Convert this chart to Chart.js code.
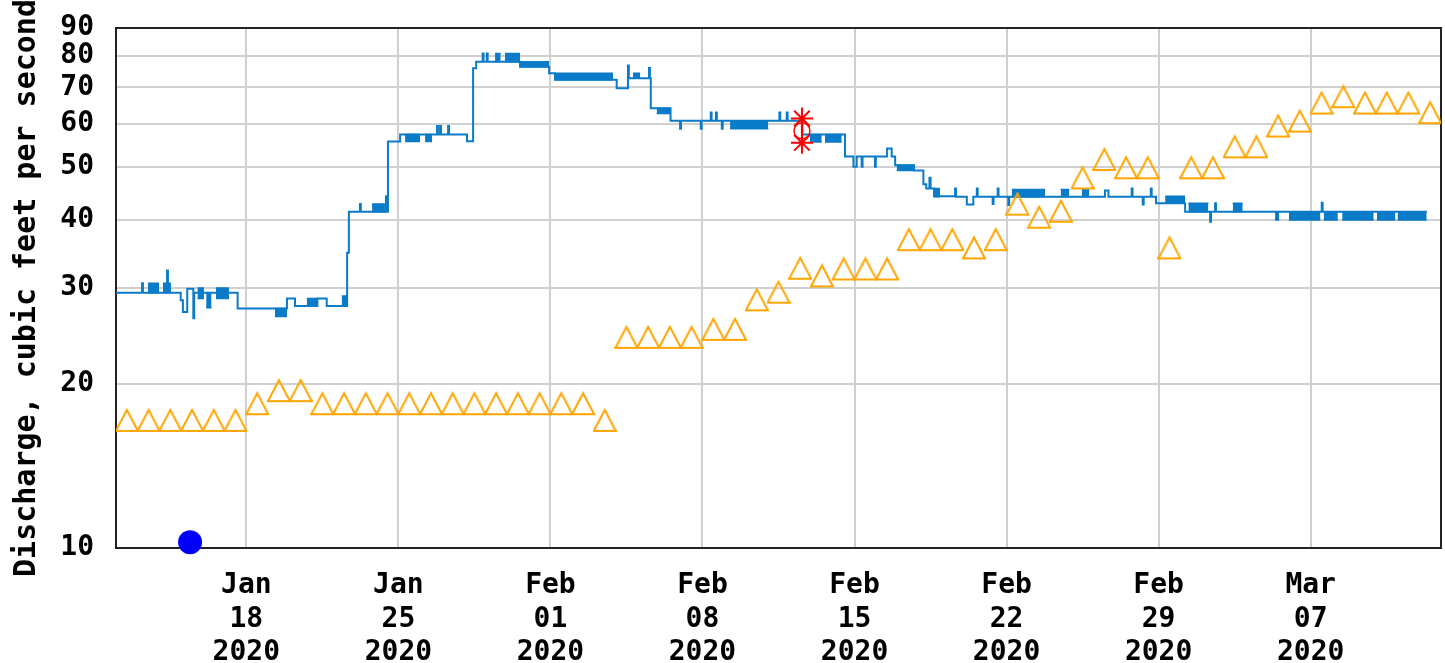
<!DOCTYPE html>
<html>
<head>
<meta charset="utf-8">
<script src="https://cdn.jsdelivr.net/npm/chart.js@4.4.1/dist/chart.umd.min.js"></script>
<style>
  html, body { margin: 0; padding: 0; background: #fff; }
  #wrap { width: 1445px; height: 663px; position: relative; }
</style>
</head>
<body>
<div id="wrap"><canvas id="grafico"></canvas></div>
<script>
// eixo x em dias contados a partir de 12 jan 2020 00:00
var tickDays = [6, 13, 20, 27, 34, 41, 48, 55];
var tickLabels = [
    ["Jan", "18", "2020"], ["Jan", "25", "2020"], ["Feb", "01", "2020"], ["Feb", "08", "2020"],
    ["Feb", "15", "2020"], ["Feb", "22", "2020"], ["Feb", "29", "2020"], ["Mar", "07", "2020"]
];
var yTicks = [10, 20, 30, 40, 50, 60, 70, 80, 90];

// vazao (15 min) - degraus: valor vale ate o proximo dia da lista
var blueDays = [0, 1.20, 1.24, 2.35, 2.39, 2.98, 3.08, 3.28, 3.56, 3.60,
    5.60, 7.87, 8.24, 9.27, 9.70, 10.64, 10.72, 11.23, 11.27, 12.43,
    12.47, 12.52, 13.08, 14.78, 14.82, 14.92, 14.96, 15.29, 15.33, 16.16,
    16.44, 16.58, 16.88, 16.92, 17.07, 17.11, 18.60, 19.94, 20.21, 23.05,
    23.57, 23.61, 24.54, 24.58, 24.62, 25.53, 25.97, 26.01, 26.92, 26.96,
    27.38, 27.42, 27.62, 27.66, 27.89, 27.93, 30.54, 30.58, 30.88, 30.92,
    31.60, 33.56, 33.95, 34.10, 34.33, 34.37, 34.94, 34.98, 35.50, 35.71,
    35.87, 36.74, 37.17, 37.30, 37.45, 37.50, 37.66, 38.63, 38.67, 39.17,
    39.47, 39.63, 39.67, 40.36, 40.40, 40.59, 40.63, 41.08, 41.12, 45.53,
    45.69, 46.76, 46.80, 47.27, 47.31, 47.64, 47.68, 47.88, 49.22, 50.37,
    50.41, 50.60, 50.64, 55.51, 55.55, 60.34];
var blueFlow = [29.4, 30.6, 29.4, 32.3, 29.4, 28.5, 27.1, 29.9, 26.4, 29.4,
    27.5, 28.7, 27.8, 28.7, 27.8, 34.8, 41.4, 42.8, 41.4, 44.2,
    41.4, 55.7, 57.4, 59.5, 57.4, 59.5, 57.4, 59.5, 57.4, 55.8,
    75.9, 78.0, 80.8, 78.0, 80.8, 78.0, 76.4, 74.3, 72.3, 69.8,
    76.8, 72.8, 76.0, 72.8, 64.1, 60.8, 58.8, 60.8, 58.8, 60.8,
    63.0, 60.8, 63.0, 60.8, 58.8, 60.8, 63.0, 60.8, 63.0, 60.8,
    57.4, 52.3, 50.1, 52.3, 50.1, 52.3, 50.1, 52.3, 54.1, 52.3,
    50.4, 49.3, 46.5, 45.7, 47.8, 45.7, 44.2, 45.7, 44.1, 42.7,
    44.1, 45.7, 44.1, 42.8, 44.1, 45.7, 44.1, 42.6, 44.1, 45.3,
    44.1, 45.7, 44.1, 42.7, 44.1, 45.7, 44.1, 42.9, 41.4, 39.7,
    41.4, 42.9, 41.4, 43.0, 41.4, 41.4];

// trechos em que a leitura oscila entre dois valores (aparecem como faixa cheia)
var blockStart = [1.47, 2.16, 3.75, 4.15, 4.60, 7.32, 8.78, 10.39, 11.79, 13.31,
    14.23, 17.45, 17.91, 18.60, 20.21, 23.80, 24.89, 28.27, 31.95, 32.64,
    35.94, 37.66, 41.24, 43.49, 44.46, 48.30, 49.37, 51.41, 53.36, 54.00,
    55.60, 56.45, 58.05, 59.00];
var blockEnd = [1.98, 2.53, 4.05, 4.40, 5.20, 7.87, 9.27, 10.64, 12.38, 14.00,
    14.55, 17.71, 18.60, 19.94, 22.88, 24.13, 25.53, 30.03, 32.49, 33.41,
    36.74, 37.94, 42.77, 43.89, 44.81, 49.22, 50.29, 51.87, 53.55, 55.45,
    56.25, 57.90, 58.90, 60.34];
var blockLow = [29.4, 29.4, 28.7, 27.6, 28.7, 26.6, 27.8, 27.8, 41.4, 55.7,
    55.7, 78.0, 78.0, 76.4, 72.3, 72.8, 62.7, 58.8, 55.6, 55.6,
    49.3, 44.1, 44.1, 44.1, 44.1, 42.9, 41.4, 41.4, 40.0, 40.0,
    40.0, 40.0, 40.0, 40.0];
var blockHigh = [30.6, 30.6, 30.0, 29.4, 30.0, 27.5, 28.7, 29.0, 42.8, 57.4,
    57.4, 80.8, 80.8, 78.0, 74.3, 74.3, 64.1, 60.8, 57.4, 57.4,
    50.4, 45.7, 45.5, 45.5, 45.5, 44.2, 42.9, 42.9, 41.4, 41.4,
    41.4, 41.4, 41.4, 41.4];

// mediana diaria (triangulos), um valor por dia a partir de 12 jan
var medianFlow = [16.4, 16.4, 16.4, 16.4, 16.4, 16.4, 17.6, 18.6, 18.6, 17.6,
    17.6, 17.6, 17.6, 17.6, 17.6, 17.6, 17.6, 17.6, 17.6, 17.6,
    17.6, 17.6, 16.4, 23.3, 23.3, 23.3, 23.3, 24.1, 24.1, 27.3,
    28.2, 31.2, 30.2, 31.1, 31.1, 31.1, 35.2, 35.2, 35.2, 34.0,
    35.2, 40.9, 38.7, 39.7, 45.7, 49.4, 47.7, 47.7, 34.0, 47.7,
    47.7, 52.1, 52.1, 56.9, 58.1, 62.7, 64.4, 62.7, 62.7, 62.7, 60.2];

// medicoes de campo (asteriscos vermelhos)
var measDays = [31.58, 31.58];
var measFlow = [61.4, 55.4];
var measMid = [58.3];

// ponto azul junto ao eixo
var dotDays = [3.41];
var dotFlow = [10.25];

var fonte = "'DejaVu Sans Mono', monospace";

function marcadorTriangulo() {
    var c = document.createElement("canvas");
    c.width = 24;
    c.height = 46;
    var g = c.getContext("2d");
    g.strokeStyle = "#ffa500";
    g.lineWidth = 2;
    g.beginPath();
    g.moveTo(0, 23);
    g.lineTo(24, 23);
    g.moveTo(1, 23);
    g.lineTo(12, 2);
    g.lineTo(23, 23);
    g.stroke();
    return c;
}

var blueData = blueDays.map(function (d, i) { return { x: d, y: blueFlow[i] }; });

var lowData = [];
var highData = [];
for (var i = 0; i < blockStart.length; i++) {
    lowData.push({ x: blockStart[i], y: blockLow[i] }, { x: blockEnd[i], y: blockLow[i] }, { x: blockEnd[i] + 0.01, y: null });
    highData.push({ x: blockStart[i], y: blockHigh[i] }, { x: blockEnd[i], y: blockHigh[i] }, { x: blockEnd[i] + 0.01, y: null });
}

// centro de cada dia (meio-dia)
var medianData = medianFlow.map(function (v, i) { return { x: i + 0.5, y: v }; });

var moldura = {
    id: "moldura",
    beforeDatasetsDraw: function (chart) {
        var ctx = chart.ctx, a = chart.chartArea;
        ctx.save();
        ctx.strokeStyle = "#222";
        ctx.lineWidth = 2;
        ctx.strokeRect(a.left, a.top, a.right - a.left, a.bottom - a.top);
        ctx.restore();
    }
};

new Chart("grafico", {
    type: "line",
    data: {
        datasets: [
            {
                data: measDays.map(function (d, i) { return { x: d, y: measFlow[i] }; }),
                borderColor: "#ff0000",
                borderWidth: 2,
                pointStyle: "star",
                pointRadius: 11,
                pointBorderWidth: 2,
                pointBorderColor: "#ff0000",
                clip: false
            },
            {
                data: [{ x: measDays[0], y: measMid[0] }],
                showLine: false,
                pointStyle: "circle",
                pointRadius: 8,
                pointBorderWidth: 1.5,
                pointBorderColor: "#ff0000",
                pointBackgroundColor: "rgba(0,0,0,0)"
            },
            {
                data: dotDays.map(function (d, i) { return { x: d, y: dotFlow[i] }; }),
                showLine: false,
                pointStyle: "circle",
                pointRadius: 12,
                pointBorderWidth: 0,
                pointBackgroundColor: "#0000ff",
                clip: false
            },
            {
                data: medianData,
                showLine: false,
                pointStyle: marcadorTriangulo(),
                pointRadius: 12
            },
            {
                data: blueData,
                stepped: true,
                borderColor: "#0a7bc8",
                borderWidth: 2,
                pointRadius: 0
            },
            {
                data: lowData,
                borderColor: "#0a7bc8",
                borderWidth: 1.5,
                pointRadius: 0,
                spanGaps: false
            },
            {
                data: highData,
                borderColor: "#0a7bc8",
                backgroundColor: "#0a7bc8",
                borderWidth: 1.5,
                pointRadius: 0,
                spanGaps: false,
                fill: "-1"
            }
        ]
    },
    options: {
        responsive: true,
        maintainAspectRatio: false,
        animation: false,
        parsing: false,
        normalized: true,
        layout: { autoPadding: false, padding: { top: 28, right: 4, left: 0, bottom: 0 } },
        plugins: {
            legend: { display: false },
            tooltip: { enabled: false }
        },
        scales: {
            x: {
                type: "linear",
                min: 0,
                max: 61,
                afterBuildTicks: function (s) {
                    s.ticks = tickDays.map(function (v) { return { value: v }; });
                },
                afterFit: function (s) { s.height = 115; },
                grid: { color: "#d0d0d0", lineWidth: 2, drawTicks: false },
                border: { display: false },
                ticks: {
                    autoSkip: false,
                    maxRotation: 0,
                    minRotation: 0,
                    padding: 21,
                    color: "#000",
                    font: { family: fonte, size: 28, weight: "bold", lineHeight: 1.2 },
                    callback: function (v) { return tickLabels[tickDays.indexOf(v)]; }
                }
            },
            y: {
                type: "logarithmic",
                min: 10,
                max: 90,
                afterBuildTicks: function (s) {
                    s.ticks = yTicks.map(function (v) { return { value: v }; });
                },
                afterFit: function (s) {
                    s.width = 116;
                    s.paddingTop = 0;
                    s.paddingBottom = 0;
                },
                grid: { color: "#d0d0d0", lineWidth: 2, drawTicks: false },
                border: { display: false },
                ticks: {
                    padding: 22,
                    color: "#000",
                    font: { family: fonte, size: 28, weight: "bold" },
                    callback: function (v) { return String(v); }
                },
                title: {
                    display: true,
                    text: "Discharge, cubic feet per second",
                    color: "#000",
                    padding: { top: 9, bottom: 0 },
                    font: { family: fonte, size: 30, weight: "bold" }
                }
            }
        }
    },
    plugins: [moldura]
});
</script>
</body>
</html>
